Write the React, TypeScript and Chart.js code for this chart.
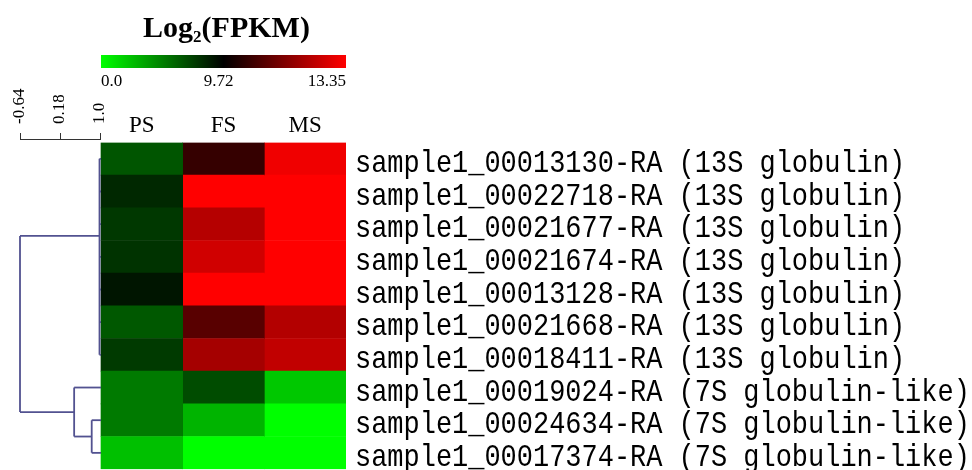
import React, { useEffect, useRef } from 'react';
import { Chart, registerables } from 'chart.js';

Chart.register(...registerables);

// ---------- data ----------
const samples = ['PS', 'FS', 'MS'];
const genes = [
  'sample1_00013130-RA (13S globulin)',
  'sample1_00022718-RA (13S globulin)',
  'sample1_00021677-RA (13S globulin)',
  'sample1_00021674-RA (13S globulin)',
  'sample1_00013128-RA (13S globulin)',
  'sample1_00021668-RA (13S globulin)',
  'sample1_00018411-RA (13S globulin)',
  'sample1_00019024-RA (7S globulin-like)',
  'sample1_00024634-RA (7S globulin-like)',
  'sample1_00017374-RA (7S globulin-like)',
];
const valuesPS = [6.48, 8.2, 7.59, 7.78, 8.92, 6.37, 7.51, 5.07, 5.07, 2.4];
const valuesFS = [10.47, 13.35, 12.3, 12.68, 13.35, 10.97, 12.07, 6.82, 2.86, 0.0];
const valuesMS = [13.14, 13.35, 13.35, 13.35, 13.35, 12.27, 12.47, 2.1, 0.0, 0.0];
const seriesValues = [valuesPS, valuesFS, valuesMS];

const legendTicks = [0.0, 9.72, 13.35];
const legendTickLabels = ['0.0', '9.72', '13.35'];
const titleMain = 'Log';
const titleSub = '2';
const titleTail = '(FPKM)';

const dendroTicks = [-0.64, 0.18, 1.0];
const dendroTickLabels = ['-0.64', '0.18', '1.0'];
const leafHeight = 1.02;
// merges: height on the distance scale, members (row index or node id), optional anchor row
const dendroNodes = [
  { id: 'A', height: 0.99, members: [0, 1, 2, 3, 4, 5, 6], anchor: 2.36 },
  { id: 'C', height: 0.83, members: [8, 9] },
  { id: 'B', height: 0.47, members: [7, 'C'] },
  { id: 'R', height: -0.64, members: ['A', 'B'] },
];

// ---------- style / layout ----------
const W = 972;
const H = 470;
const CHART_LEFT = 20;
const HEAT_LEFT = 101;
const HEAT_RIGHT = 346;
const HEAT_TOP = 142.5;
const HEAT_BOTTOM = 469.2;
const DENDRO_AT_MIN_PX = 20;
const DENDRO_AT_MAX_PX = 100;
const LINE_COLOR = '#525290';
const CHAR_PITCH = 16.18;

const colWidth = (HEAT_RIGHT - HEAT_LEFT) / samples.length;
const xMin = -(HEAT_LEFT - CHART_LEFT) / colWidth;
const dPerPx = (dendroTicks[2] - dendroTicks[0]) / (DENDRO_AT_MAX_PX - DENDRO_AT_MIN_PX);
const xdMin = dendroTicks[0] - (DENDRO_AT_MIN_PX - CHART_LEFT) * dPerPx;
const xdMax = dendroTicks[0] + (HEAT_RIGHT - DENDRO_AT_MIN_PX) * dPerPx;

function colorFor(v: number): string {
  const lo = legendTicks[0];
  const mid = legendTicks[1];
  const hi = legendTicks[2];
  if (v <= mid) {
    const t = Math.max(0, Math.min(1, (v - lo) / (mid - lo)));
    const g = Math.round(255 * (1 - t));
    return `rgb(0,${g},0)`;
  }
  const t = Math.max(0, Math.min(1, (v - mid) / (hi - mid)));
  const r = Math.round(255 * t);
  return `rgb(${r},0,0)`;
}

function buildDendroSegments() {
  const pos: Record<string, number> = {};
  const hgt: Record<string, number> = {};
  const key = (m: any) => String(m);
  genes.forEach((_, i) => {
    pos[String(i)] = i;
    hgt[String(i)] = leafHeight;
  });
  const segs: { x: number; y: number }[][] = [];
  dendroNodes.forEach((n: any) => {
    const ps = n.members.map((m: any) => pos[key(m)]);
    const top = Math.min(...ps);
    const bot = Math.max(...ps);
    n.members.forEach((m: any) => {
      segs.push([
        { x: hgt[key(m)], y: pos[key(m)] },
        { x: n.height, y: pos[key(m)] },
      ]);
    });
    segs.push([
      { x: n.height, y: top },
      { x: n.height, y: bot },
    ]);
    pos[n.id] = n.anchor !== undefined ? n.anchor : (ps[0] + ps[ps.length - 1]) / 2;
    hgt[n.id] = n.height;
  });
  return segs;
}

const decorPlugin = {
  id: 'decor',
  afterDraw(chart: any) {
    const ctx = chart.ctx as CanvasRenderingContext2D;
    const x = chart.scales.x;
    const y = chart.scales.y;
    const xd = chart.scales.xd;
    const hl = x.getPixelForValue(0);
    const hr = x.getPixelForValue(samples.length);
    const hc = (hl + hr) / 2;

    ctx.save();
    ctx.fillStyle = '#000';

    // title
    ctx.textBaseline = 'alphabetic';
    ctx.textAlign = 'left';
    const fMain = 'bold 30px "Liberation Serif", "Times New Roman", serif';
    const fSub = 'bold 17px "Liberation Serif", "Times New Roman", serif';
    ctx.font = fMain;
    const w1 = ctx.measureText(titleMain).width;
    const w3 = ctx.measureText(titleTail).width;
    ctx.font = fSub;
    const w2 = ctx.measureText(titleSub).width;
    let tx = hc + 3 - (w1 + w2 + w3) / 2;
    ctx.font = fMain;
    ctx.fillText(titleMain, tx, 36.5);
    tx += w1;
    ctx.font = fSub;
    ctx.fillText(titleSub, tx, 42);
    tx += w2;
    ctx.font = fMain;
    ctx.fillText(titleTail, tx, 36.5);

    // colour legend
    const grad = ctx.createLinearGradient(hl, 0, hr, 0);
    grad.addColorStop(0, colorFor(legendTicks[0]));
    grad.addColorStop(0.5, colorFor(legendTicks[1]));
    grad.addColorStop(1, colorFor(legendTicks[2]));
    ctx.fillStyle = grad;
    ctx.fillRect(hl, 55, hr - hl, 13);
    ctx.fillStyle = '#000';
    ctx.font = '17px "Liberation Serif", "Times New Roman", serif';
    ctx.textAlign = 'left';
    ctx.fillText(legendTickLabels[0], hl, 86);
    ctx.textAlign = 'center';
    ctx.fillText(legendTickLabels[1], hc - 5, 86);
    ctx.textAlign = 'right';
    ctx.fillText(legendTickLabels[2], hr, 86);

    // column labels
    ctx.font = '23px "Liberation Serif", "Times New Roman", serif';
    ctx.textAlign = 'center';
    samples.forEach((s, c) => {
      ctx.fillText(s, x.getPixelForValue(c + 0.5), 131.5);
    });

    // dendrogram scale
    const axY = 139;
    ctx.strokeStyle = '#333';
    ctx.lineWidth = 1;
    ctx.beginPath();
    ctx.moveTo(xd.getPixelForValue(dendroTicks[0]), axY + 0.5);
    ctx.lineTo(xd.getPixelForValue(leafHeight), axY + 0.5);
    dendroTicks.forEach((t) => {
      const px = Math.round(xd.getPixelForValue(t)) + 0.5;
      ctx.moveTo(px, axY + 0.5);
      ctx.lineTo(px, axY - 6);
    });
    ctx.stroke();
    ctx.font = '17px "Liberation Serif", "Times New Roman", serif';
    ctx.textAlign = 'left';
    ctx.textBaseline = 'middle';
    dendroTicks.forEach((t, i) => {
      ctx.save();
      ctx.translate(xd.getPixelForValue(t), 124);
      ctx.rotate(-Math.PI / 2);
      ctx.fillText(dendroTickLabels[i], 0, 0);
      ctx.restore();
    });

    // row labels
    ctx.textBaseline = 'alphabetic';
    ctx.textAlign = 'left';
    ctx.font = '32px "Liberation Mono", "DejaVu Sans Mono", monospace';
    genes.forEach((g, i) => {
      const py = y.getPixelForValue(i);
      const mw = ctx.measureText(g).width;
      const sx = (g.length * CHAR_PITCH) / mw;
      ctx.save();
      ctx.translate(hr + 9, py + 13);
      ctx.scale(sx, 1);
      ctx.fillText(g, 0, 0);
      ctx.restore();
    });
    ctx.restore();
  },
};

export default function App() {
  const ref = useRef<HTMLCanvasElement | null>(null);
  useEffect(() => {
    document.body.style.margin = '0';
    const canvas = ref.current;
    if (!canvas) return;

    const heatDatasets = samples.map((s, c) => ({
      type: 'bar' as const,
      label: s,
      indexAxis: 'y' as const,
      xAxisID: 'x',
      yAxisID: 'y',
      data: genes.map(() => [c, c + 1]),
      backgroundColor: seriesValues[c].map((v) => colorFor(v)),
      borderWidth: 0,
      barPercentage: 1,
      categoryPercentage: 1,
      grouped: false,
      order: 2,
    }));

    const dendroDatasets = buildDendroSegments().map((seg, i) => ({
      type: 'line' as const,
      label: 'd' + i,
      xAxisID: 'xd',
      yAxisID: 'yd',
      data: seg,
      borderColor: LINE_COLOR,
      borderWidth: 1.8,
      pointRadius: 0,
      fill: false,
      tension: 0,
      clip: false as any,
      order: 1,
    }));

    const chart = new Chart(canvas, {
      type: 'bar',
      data: {
        labels: genes,
        datasets: [...heatDatasets, ...dendroDatasets] as any,
      },
      options: {
        responsive: false,
        animation: false,
        layout: {
          autoPadding: false,
          padding: {
            left: CHART_LEFT,
            right: W - HEAT_RIGHT,
            top: HEAT_TOP,
            bottom: H - HEAT_BOTTOM,
          },
        },
        plugins: {
          legend: { display: false },
          tooltip: { enabled: false },
        },
        scales: {
          x: { type: 'linear', min: xMin, max: samples.length, offset: false, grid: { offset: false }, display: false },
          y: { type: 'category', labels: genes, offset: true, display: false },
          xd: { type: 'linear', min: xdMin, max: xdMax, offset: false, grid: { offset: false }, display: false },
          yd: { type: 'linear', min: -0.5, max: genes.length - 0.5, reverse: true, offset: false, display: false },
        },
      },
      plugins: [decorPlugin],
    });
    return () => chart.destroy();
  }, []);

  return (
    <div style={{ width: W, height: H, background: '#fff' }}>
      <canvas ref={ref} width={W} height={H} style={{ display: 'block' }} />
    </div>
  );
}
